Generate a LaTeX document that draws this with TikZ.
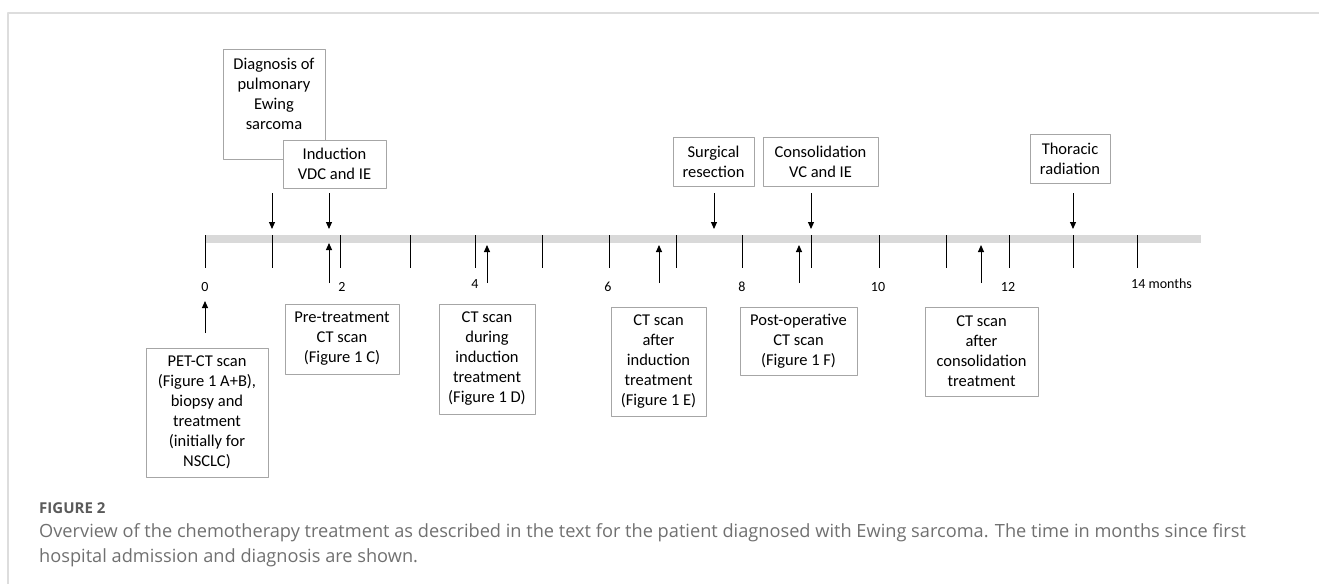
\documentclass[tikz,border=0pt]{standalone}
\usepackage{fontspec}
\setmainfont{Carlito}
\newfontfamily\capfont{Open Sans}
\usetikzlibrary{arrows.meta}
\definecolor{barg}{HTML}{D9D9D9}
\definecolor{boxg}{HTML}{A6A6A6}
\definecolor{frameg}{HTML}{DDDDDD}
\definecolor{capg}{HTML}{707070}
\definecolor{figg}{HTML}{5A5A5A}
\begin{document}
\begin{tikzpicture}[x=1pt,y=-1pt,line join=round,>={Triangle[length=7pt,width=6pt]},
	ev/.style={draw=boxg,line width=0.9pt,fill=white,align=center,inner sep=0pt,font=\fontsize{16.5}{20}\selectfont},
	num/.style={font=\fontsize{14}{16}\selectfont,inner sep=0pt},
	arr/.style={->,line width=1pt}]
	\useasboundingbox (0,0) rectangle (1319,584);
	\draw[frameg,line width=1.5pt] (1319,13)--(8,13)--(8,584);
	% time axis
	\fill[barg] (205,235) rectangle (1201,243);
	\foreach \x in {205,272,340,410,475,542,609,676,742,811,879,946,1009,1073,1137}
		\draw[line width=1pt] (\x,235)--(\x,268);
	\foreach \t/\x/\y in {0/205/287,2/342/287,4/475/284,6/608/287,8/742/287,10/878/287,12/1008/287}
		\node[num] (n\t) at (\x,\y) {\t};
	\node[num,anchor=west] (n14) at (1131,284) {14 months};
	% events above
	\node[ev,minimum width=102,minimum height=110] (diag) at (274,104) {Diagnosis of\\pulmonary\\Ewing\\sarcoma\\\mbox{}};
	\node[ev,minimum width=103,minimum height=48] (ind) at (334.5,164) {Induction\\VDC and IE};
	\node[ev,minimum width=81,minimum height=49] (surg) at (713.5,161.5) {Surgical\\resection};
	\node[ev,minimum width=115,minimum height=49] (cons) at (820.5,161.5) {Consolidation\\VC and IE};
	\node[ev,minimum width=80,minimum height=49] (thor) at (1070,158.5) {Thoracic\\radiation};
	% scans below
	\node[ev,minimum width=122,minimum height=129] (pet) at (207,412.5) {PET-CT scan\\(Figure 1 A+B),\\biopsy and\\treatment\\(initially for\\NSCLC)};
	\node[ev,minimum width=114,minimum height=70] (pre) at (342,339) {Pre-treatment\\CT scan\\(Figure 1 C)};
	\node[ev,minimum width=96,minimum height=110] (dur) at (487,359) {CT scan\\during\\induction\\treatment\\(Figure 1 D)};
	\node[ev,minimum width=95,minimum height=109] (aft) at (658.5,361.5) {CT scan\\after\\induction\\treatment\\(Figure 1 E)};
	\node[ev,minimum width=117,minimum height=68] (post) at (798.5,341) {Post-operative\\CT scan\\(Figure 1 F)};
	\node[ev,minimum width=113,minimum height=89] (ccon) at (981.5,351.5) {CT scan\\after\\consolidation\\treatment};
	% arrows
	\foreach \i/\x in {a/272,b/329,c/714,d/811,e/1073}{
		\coordinate (dt\i) at (\x,193);
		\coordinate (db\i) at (\x,229);
		\draw[arr] (dt\i)--(db\i);
	}
	\foreach \i/\x/\y in {a/329/243,b/487/245,c/659/245,d/799/245,e/981/245}{
		\coordinate (ub\i) at (\x,283);
		\coordinate (ut\i) at (\x,\y);
		\draw[arr] (ub\i)--(ut\i);
	}
	\coordinate (p0) at (205,333);
	\draw[arr] (p0)--(n0.south |- 0,301);
	% caption
	\node[anchor=base west,inner sep=0pt,text=figg,font=\capfont\fontsize{15}{18}\selectfont\bfseries] (figlbl) at (39,513.5) {FIGURE 2};
	\node[anchor=north west,inner sep=0pt,align=left,text=capg,font=\capfont\fontsize{18.2}{25}\selectfont] (cap) at (39,523) {Overview of the chemotherapy treatment as described in the text for the patient diagnosed with Ewing sarcoma. The time in months since first\\hospital admission and diagnosis are shown.};
\end{tikzpicture}
\end{document}
